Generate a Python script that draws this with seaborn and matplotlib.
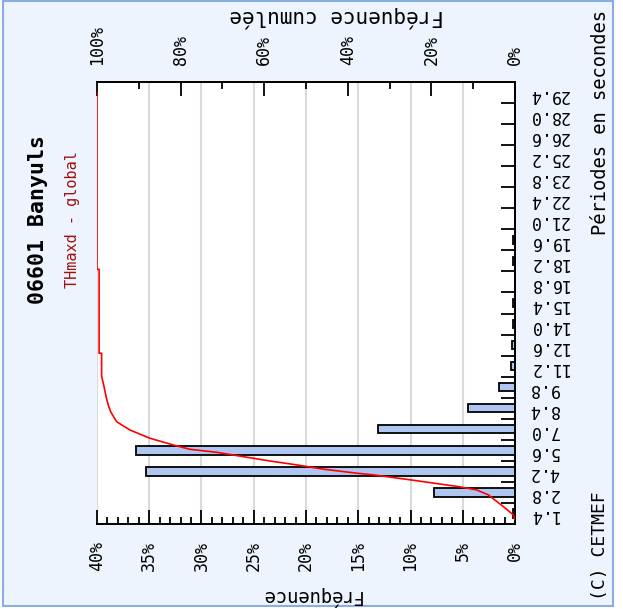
import numpy as np
import pandas as pd
import matplotlib
matplotlib.use("Agg")
import matplotlib.pyplot as plt
from matplotlib.patches import Rectangle
from matplotlib.ticker import FixedLocator, NullFormatter
import seaborn as sns

# ---------------- data ----------------
periods = ["1.4", "2.8", "4.2", "5.6", "7.0", "8.4", "9.8", "11.2", "12.6", "14.0",
           "15.4", "16.8", "18.2", "19.6", "21.0", "22.4", "23.8", "25.2", "26.6",
           "28.0", "29.4"]
frequency = [0.15, 7.72, 35.3, 36.3, 13.1, 4.47, 1.53, 0.38, 0.25, 0.2,
             0.2, 0.0, 0.2, 0.15, 0.0, 0.0, 0.0, 0.0, 0.0, 0.0, 0.0]

cum_period = [1.0, 1.31, 1.86, 2.64, 2.97, 3.19, 3.42, 3.64, 3.97, 4.08, 4.35, 4.63,
              4.89, 5.18, 5.47, 5.67, 5.96, 6.40, 6.95, 7.5, 8.15, 8.6, 9.14, 9.81,
              10.54, 12.06, 12.06, 17.64, 17.64, 29.4]
cum_percent = [0.0, 0.4, 2.8, 6.4, 9.2, 13.6, 19.5, 25.1, 33.9, 37.9, 45.9, 52.2,
               58.6, 65.0, 71.4, 77.8, 81.8, 87.3, 92.1, 95.3, 96.7, 97.3, 97.8, 98.3,
               98.9, 98.9, 99.5, 99.5, 100.0, 100.0]

freq_ticks = [0, 5, 10, 15, 20, 25, 30, 35, 40]
cum_ticks = [0, 20, 40, 60, 80, 100]

title = "06601 Banyuls"
subtitle = "THmaxd - global"

# ---------------- style ----------------
plt.rcParams["font.family"] = ["DejaVu Sans Mono", "DejaVu Sans"]
W, H = 623, 609
fig = plt.figure(figsize=(W / 100, H / 100), dpi=100)
fig.patch.set_facecolor("white")
fig.patches.append(Rectangle((3 / W, 3 / H), 610 / W, 605 / H, transform=fig.transFigure,
                             facecolor="#EEF4FD", edgecolor="#8AAEE0", lw=1.5, zorder=-10))

ax = fig.add_axes([97 / W, 85 / H, 418 / W, 442 / H])
ax.set_facecolor("white")

df = pd.DataFrame({"periode": periods, "freq": frequency})
sns.barplot(data=df, x="freq", y="periode", order=periods, orient="h",
            color="#AEC6F0", saturation=1, edgecolor="black", linewidth=1.3,
            width=0.4, ax=ax, zorder=3)

# cumulative line on twin top axis
ax2 = ax.twiny()
pos = [(p - 1.4) / 1.4 for p in cum_period]
sns.lineplot(x=cum_percent, y=pos, sort=False, estimator=None, color="#FF0000",
             lw=1.2, ax=ax2, zorder=5)

for a in (ax, ax2):
    a.set_ylim(-0.5, 20.5)
ax.set_xlim(40, 0)
ax2.set_xlim(100, 0)

# bottom axis (frequency)
ax.set_xticks(freq_ticks)
ax.set_xticklabels([f"{v}%" for v in freq_ticks], rotation=90)
ax.xaxis.set_minor_locator(FixedLocator(np.arange(0, 41, 1)))
ax.tick_params(axis="x", which="major", direction="in", length=10, width=1.3,
               pad=12, labelsize=12, colors="black")
ax.tick_params(axis="x", which="minor", direction="in", length=5, width=1.3)
ax.xaxis.grid(True, which="major", color="#DADADA", lw=1.5, zorder=0)
ax.set_axisbelow(True)

# right axis (periods)
ax.yaxis.tick_right()
ax.set_yticks(range(len(periods)))
ax.set_yticklabels(periods, rotation=180)
ax.yaxis.set_minor_locator(FixedLocator(np.arange(0.5, 20.0, 1)))
ax.tick_params(axis="y", which="major", length=0, pad=10, labelsize=12)
ax.tick_params(axis="y", which="minor", direction="in", length=10, width=1.3)
ax.set_xlabel("")
ax.set_ylabel("")

# top axis (cumulative)
ax2.set_xticks(cum_ticks)
ax2.set_xticklabels([f"{v}%" for v in cum_ticks], rotation=90)
ax2.xaxis.set_minor_locator(FixedLocator(np.arange(0, 101, 10)))
ax2.tick_params(axis="x", which="major", direction="in", length=10, width=1.3,
                pad=12, labelsize=12)
ax2.tick_params(axis="x", which="minor", direction="in", length=5, width=1.3)
ax2.set_xlabel("")
ax2.set_ylabel("")
ax2.tick_params(axis="y", left=False, right=False, labelleft=False, labelright=False)

for a in (ax, ax2):
    a.spines["left"].set_visible(False)
    for s in ("top", "right", "bottom"):
        a.spines[s].set_color("black")
        a.spines[s].set_linewidth(1.3)

# texts
fig.text(38 / W, 1 - 220 / H, title, rotation=90, ha="center", va="center",
         fontsize=15.5, fontweight="bold", color="black")
fig.text(73 / W, 1 - 220 / H, subtitle, rotation=90, ha="center", va="center",
         fontsize=11, color="#A01010")
fig.text(337 / W, 1 - 17 / H, "Fréquence cumulée", rotation=180, ha="center",
         va="center", fontsize=15)
fig.text(310 / W, 1 - 596 / H, "Fréquence", rotation=180, ha="center",
         va="center", fontsize=13.5)
fig.text(600 / W, 1 - 10 / H, "Périodes en secondes", rotation=90, ha="center",
         va="top", fontsize=13.5)
fig.text(600 / W, 1 - 600 / H, "(C) CETMEF", rotation=90, ha="center",
         va="bottom", fontsize=13)

fig.savefig("out.png", dpi=100, facecolor=fig.get_facecolor())
